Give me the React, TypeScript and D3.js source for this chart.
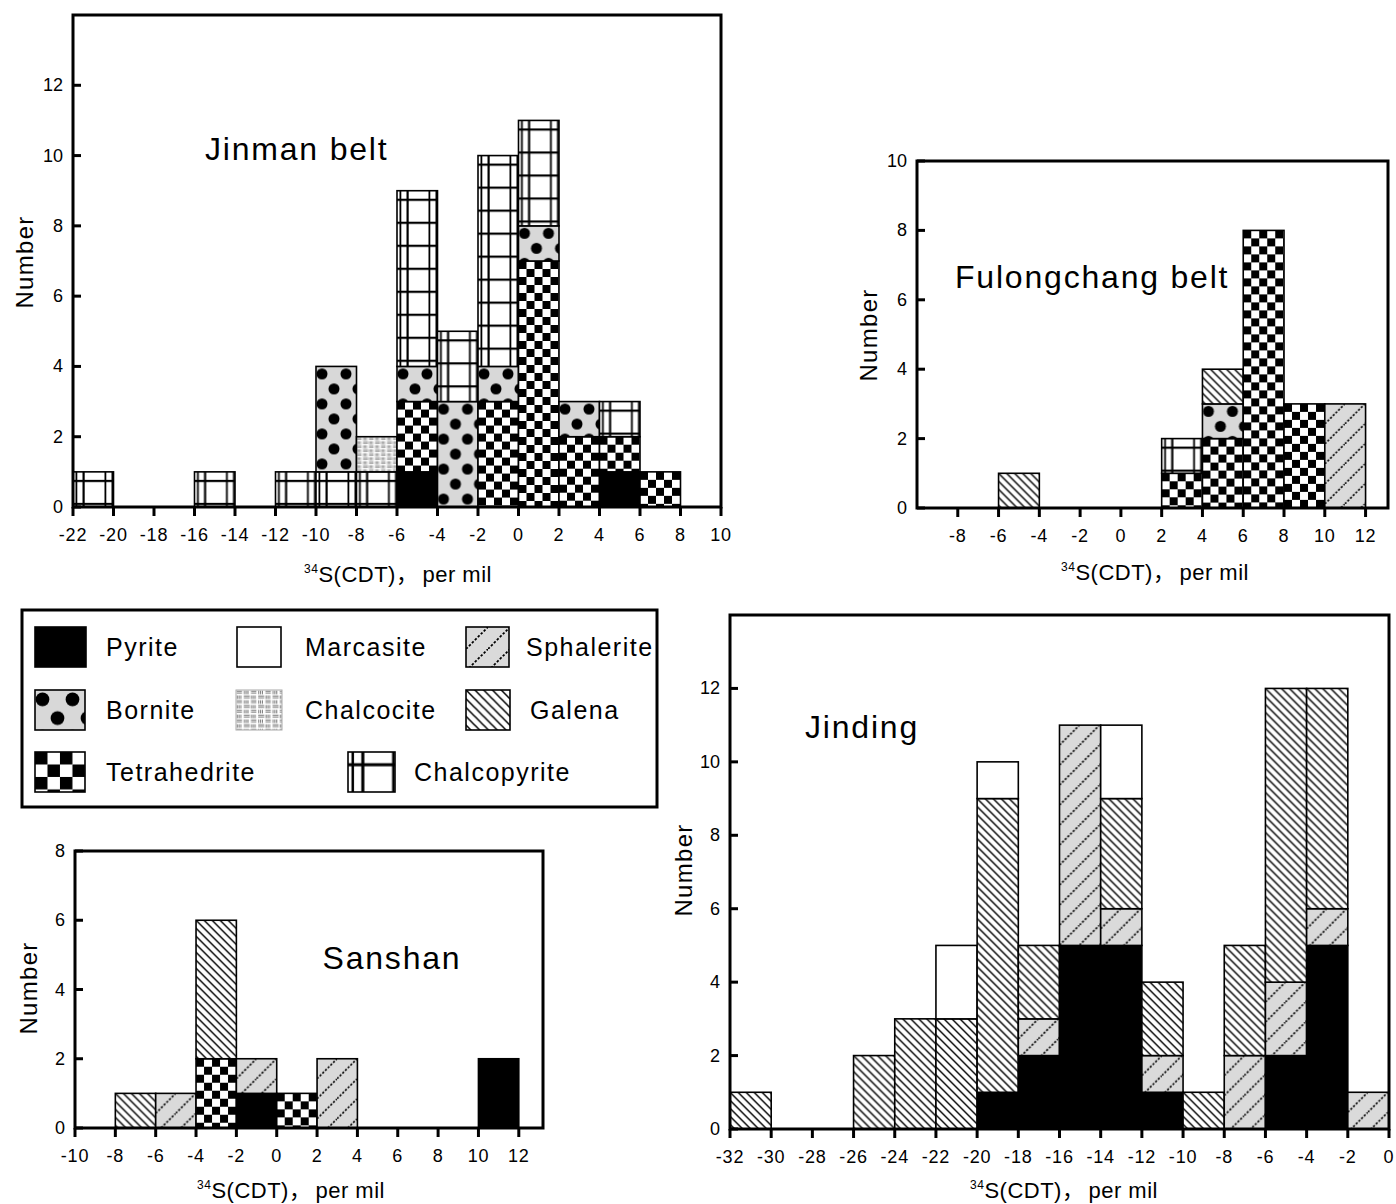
import React from 'react';
import * as d3 from 'd3';

// [bin start, mineral, count] – stacked bottom to top in listed order
type Seg = [number, string, number];

const minerals = ['Pyrite', 'Marcasite', 'Sphalerite', 'Bornite', 'Chalcocite', 'Galena', 'Tetrahedrite', 'Chalcopyrite'];

const jinmanSegs: Seg[] = [
  [-22, 'Chalcopyrite', 1],
  [-16, 'Chalcopyrite', 1],
  [-12, 'Chalcopyrite', 1],
  [-10, 'Chalcopyrite', 1], [-10, 'Bornite', 3],
  [-8, 'Chalcopyrite', 1], [-8, 'Chalcocite', 1],
  [-6, 'Pyrite', 1], [-6, 'Tetrahedrite', 2], [-6, 'Bornite', 1], [-6, 'Chalcopyrite', 5],
  [-4, 'Bornite', 3], [-4, 'Chalcopyrite', 2],
  [-2, 'Tetrahedrite', 3], [-2, 'Bornite', 1], [-2, 'Chalcopyrite', 6],
  [0, 'Tetrahedrite', 7], [0, 'Bornite', 1], [0, 'Chalcopyrite', 3],
  [2, 'Tetrahedrite', 2], [2, 'Bornite', 1],
  [4, 'Pyrite', 1], [4, 'Tetrahedrite', 1], [4, 'Chalcopyrite', 1],
  [6, 'Tetrahedrite', 1],
];

const fulongchangSegs: Seg[] = [
  [-6, 'Galena', 1],
  [2, 'Tetrahedrite', 1], [2, 'Chalcopyrite', 1],
  [4, 'Tetrahedrite', 2], [4, 'Bornite', 1], [4, 'Galena', 1],
  [6, 'Tetrahedrite', 8],
  [8, 'Tetrahedrite', 3],
  [10, 'Sphalerite', 3],
];

const sanshanSegs: Seg[] = [
  [-8, 'Galena', 1],
  [-6, 'Sphalerite', 1],
  [-4, 'Tetrahedrite', 2], [-4, 'Galena', 4],
  [-2, 'Pyrite', 1], [-2, 'Sphalerite', 1],
  [0, 'Tetrahedrite', 1],
  [2, 'Sphalerite', 2],
  [10, 'Pyrite', 2],
];

const jindingSegs: Seg[] = [
  [-32, 'Galena', 1],
  [-26, 'Galena', 2],
  [-24, 'Galena', 3],
  [-22, 'Galena', 3], [-22, 'Marcasite', 2],
  [-20, 'Pyrite', 1], [-20, 'Galena', 8], [-20, 'Marcasite', 1],
  [-18, 'Pyrite', 2], [-18, 'Sphalerite', 1], [-18, 'Galena', 2],
  [-16, 'Pyrite', 5], [-16, 'Sphalerite', 6],
  [-14, 'Pyrite', 5], [-14, 'Sphalerite', 1], [-14, 'Galena', 3], [-14, 'Marcasite', 2],
  [-12, 'Pyrite', 1], [-12, 'Sphalerite', 1], [-12, 'Galena', 2],
  [-10, 'Galena', 1],
  [-8, 'Sphalerite', 2], [-8, 'Galena', 3],
  [-6, 'Pyrite', 2], [-6, 'Sphalerite', 2], [-6, 'Galena', 8],
  [-4, 'Pyrite', 5], [-4, 'Sphalerite', 1], [-4, 'Galena', 6],
  [-2, 'Sphalerite', 1],
];

const jinmanXTicks = d3.range(-22, 11, 2);
const jinmanYTicks = [0, 2, 4, 6, 8, 10, 12];
const fulongXTicks = d3.range(-8, 13, 2);
const fulongYTicks = [0, 2, 4, 6, 8, 10];
const sanshanXTicks = d3.range(-10, 13, 2);
const sanshanYTicks = [0, 2, 4, 6, 8];
const jindingXTicks = d3.range(-32, 1, 2);
const jindingYTicks = [0, 2, 4, 6, 8, 10, 12];

const FONT = 'Liberation Sans, Arial, Helvetica, sans-serif';
const BIN = 2;

// one pattern per rectangle so the texture starts at the bar's corner
const makePattern = (m: string, id: string, x0: number, y0: number, s: number) => {
  const tf = `translate(${x0},${y0}) scale(${s})`;
  const common = { id, patternUnits: 'userSpaceOnUse', patternTransform: tf } as any;
  switch (m) {
    case 'Sphalerite':
      return (
        <pattern key={id} {...common} width={20} height={20}>
          <rect width={20} height={20} fill="#dadada" />
          <line x1={0} y1={20} x2={20} y2={0} stroke="#000" strokeWidth={1.6} strokeDasharray="2.2 1.6" />
        </pattern>
      );
    case 'Galena':
      return (
        <pattern key={id} {...common} width={8} height={8}>
          <rect width={8} height={8} fill="#fff" />
          <line x1={0} y1={0} x2={8} y2={8} stroke="#000" strokeWidth={1.4} />
          <line x1={-1} y1={7} x2={1} y2={9} stroke="#000" strokeWidth={1.4} />
          <line x1={7} y1={-1} x2={9} y2={1} stroke="#000" strokeWidth={1.4} />
        </pattern>
      );
    case 'Bornite':
      return (
        <pattern key={id} {...common} width={24} height={30}>
          <rect width={24} height={30} fill="#d8d8d8" />
          <circle cx={6} cy={7.5} r={5.5} fill="#000" />
          <circle cx={18} cy={22.5} r={5.5} fill="#000" />
        </pattern>
      );
    case 'Tetrahedrite':
      return (
        <pattern key={id} {...common} width={16} height={16}>
          <rect width={16} height={16} fill="#fff" />
          <rect width={8} height={8} fill="#000" />
          <rect x={8} y={8} width={8} height={8} fill="#000" />
        </pattern>
      );
    case 'Chalcopyrite':
      return (
        <pattern key={id} {...common} width={29} height={23}>
          <rect width={29} height={23} fill="#fff" />
          <rect x={2.5} y={0} width={1.8} height={23} fill="#000" />
          <rect x={9.5} y={0} width={2.2} height={23} fill="#000" />
          <rect x={0} y={8} width={29} height={2.2} fill="#000" />
        </pattern>
      );
    case 'Chalcocite':
      return (
        <pattern key={id} {...common} width={12} height={8}>
          <rect width={12} height={8} fill="#fff" />
          <g stroke="#444" strokeWidth={0.6}>
            <line x1={0.5} y1={1} x2={5} y2={1} />
            <line x1={0.5} y1={2.5} x2={5} y2={2.5} />
            <line x1={7} y1={0.5} x2={7} y2={3.5} />
            <line x1={8.5} y1={0.5} x2={8.5} y2={3.5} />
            <line x1={10} y1={0.5} x2={10} y2={3.5} />
            <line x1={1} y1={4.5} x2={1} y2={7.5} />
            <line x1={2.5} y1={4.5} x2={2.5} y2={7.5} />
            <line x1={4} y1={4.5} x2={4} y2={7.5} />
            <line x1={6.5} y1={5} x2={11.5} y2={5} />
            <line x1={6.5} y1={6.5} x2={11.5} y2={6.5} />
          </g>
        </pattern>
      );
    default:
      return null;
  }
};

const fillOf = (m: string, id: string) => {
  if (m === 'Pyrite') return '#000';
  if (m === 'Marcasite') return '#fff';
  return `url(#${id})`;
};

const XLabel = ({ x, y }: { x: number; y: number }) => (
  <text x={x} y={y} fontSize={22} textAnchor="middle" fontFamily={FONT} letterSpacing={0.5}>
    <tspan fontSize={12} dy={-9}>34</tspan>
    <tspan dy={9}>S(CDT)</tspan>
    <tspan fontFamily="Noto Sans CJK SC, sans-serif">，</tspan>
    <tspan dx={4}>per mil</tspan>
  </text>
);

interface PanelProps {
  name: string;
  left: number; right: number; top: number; bottom: number;
  xDomain: [number, number]; yMax: number;
  xTicks: number[]; yTicks: number[];
  segs: Seg[];
  title: string; titleX: number; titleY: number; titleAnchor?: string;
  yLabelX: number; yLabelY: number; xLabelX: number; xLabelY: number;
}

const Panel = (p: PanelProps) => {
  const x = d3.scaleLinear().domain(p.xDomain).range([p.left, p.right]);
  const y = d3.scaleLinear().domain([0, p.yMax]).range([p.bottom, p.top]);
  const cum = new Map<number, number>();
  const stacked = p.segs.map(([b, m, n], i) => {
    const y0 = cum.get(b) ?? 0;
    cum.set(b, y0 + n);
    return { b, m, y0, y1: y0 + n, id: `p-${p.name}-${i}` };
  });
  return (
    <g fontFamily={FONT}>
      <defs>{stacked.map((d) => makePattern(d.m, d.id, x(d.b), y(d.y1), 1))}</defs>
      {stacked.map((d) => (
        <rect key={d.id} x={x(d.b)} y={y(d.y1)} width={x(d.b + BIN) - x(d.b)} height={y(d.y0) - y(d.y1)}
          fill={fillOf(d.m, d.id)} stroke="#000" strokeWidth={1.6} />
      ))}
      <rect x={p.left} y={p.top} width={p.right - p.left} height={p.bottom - p.top} fill="none" stroke="#000" strokeWidth={3} />
      {p.xTicks.map((t) => (
        <g key={t}>
          <line x1={x(t)} x2={x(t)} y1={p.bottom} y2={p.bottom + 9} stroke="#000" strokeWidth={3} />
          <text x={x(t)} y={p.bottom + 34} fontSize={18} textAnchor="middle" letterSpacing={0.8}>{t}</text>
        </g>
      ))}
      {p.yTicks.map((t) => (
        <g key={t}>
          <line x1={p.left} x2={p.left + 8} y1={y(t)} y2={y(t)} stroke="#000" strokeWidth={3} />
          <text x={p.left - 10} y={y(t)} fontSize={18} textAnchor="end" dominantBaseline="central">{t}</text>
        </g>
      ))}
      <text x={p.titleX} y={p.titleY} fontSize={32} letterSpacing={1.8} textAnchor={p.titleAnchor ?? 'start'}>{p.title}</text>
      <text transform={`translate(${p.yLabelX},${p.yLabelY}) rotate(-90)`} fontSize={24} letterSpacing={1.3} textAnchor="middle">Number</text>
      <XLabel x={p.xLabelX} y={p.xLabelY} />
    </g>
  );
};

const legendRows = [
  [{ m: 'Pyrite', sx: 35, sw: 51, lx: 106 }, { m: 'Marcasite', sx: 237, sw: 44, lx: 305 }, { m: 'Sphalerite', sx: 466, sw: 43, lx: 526 }],
  [{ m: 'Bornite', sx: 35, sw: 50, lx: 106 }, { m: 'Chalcocite', sx: 236, sw: 46, lx: 305 }, { m: 'Galena', sx: 466, sw: 44, lx: 530 }],
  [{ m: 'Tetrahedrite', sx: 35, sw: 50, lx: 106 }, { m: 'Chalcopyrite', sx: 348, sw: 47, lx: 414 }],
];
const legendRowY = [647, 710, 772];
const legendScale: Record<string, number> = { Tetrahedrite: 1.56, Bornite: 1.25, Chalcopyrite: 1.4, Galena: 1.1, Sphalerite: 1.1, Chalcocite: 1.2 };

const Legend = () => (
  <g fontFamily={FONT}>
    <rect x={22} y={610} width={635} height={197} fill="#fff" stroke="#000" strokeWidth={3} />
    {legendRows.map((row, ri) =>
      row.map((it) => {
        const id = `lg-${it.m}`;
        const sy = legendRowY[ri] - 20;
        return (
          <g key={it.m}>
            <defs>{makePattern(it.m, id, it.sx, sy, legendScale[it.m] ?? 1)}</defs>
            <rect x={it.sx} y={sy} width={it.sw} height={40} fill={fillOf(it.m, id)}
              stroke={it.m === 'Chalcocite' ? '#aaa' : '#000'} strokeWidth={it.m === 'Chalcocite' ? 1 : 1.6} />
            <text x={it.lx} y={legendRowY[ri]} fontSize={25} letterSpacing={1.5} dominantBaseline="central">{it.m}</text>
          </g>
        );
      })
    )}
  </g>
);

export default function App() {
  return (
    <svg width={1396} height={1204} style={{ display: 'block', position: 'absolute', left: 0, top: 0, background: '#fff' }}>
      <rect width={1396} height={1204} fill="#fff" />
      <Panel name="jinman" left={73} right={721} top={15} bottom={507} xDomain={[-22, 10]} yMax={14}
        xTicks={jinmanXTicks} yTicks={jinmanYTicks} segs={jinmanSegs}
        title="Jinman belt" titleX={205} titleY={160}
        yLabelX={33} yLabelY={262} xLabelX={398} xLabelY={582} />
      <Panel name="fulong" left={917} right={1388} top={161} bottom={508} xDomain={[-10, 13.1]} yMax={10}
        xTicks={fulongXTicks} yTicks={fulongYTicks} segs={fulongchangSegs}
        title="Fulongchang belt" titleX={955} titleY={288}
        yLabelX={877} yLabelY={335} xLabelX={1155} xLabelY={580} />
      <Legend />
      <Panel name="sanshan" left={75} right={543} top={851} bottom={1128} xDomain={[-10, 13.2]} yMax={8}
        xTicks={sanshanXTicks} yTicks={sanshanYTicks} segs={sanshanSegs}
        title="Sanshan" titleX={392} titleY={969} titleAnchor="middle"
        yLabelX={37} yLabelY={988} xLabelX={291} xLabelY={1198} />
      <Panel name="jinding" left={730} right={1389} top={615} bottom={1129} xDomain={[-32, 0]} yMax={14}
        xTicks={jindingXTicks} yTicks={jindingYTicks} segs={jindingSegs}
        title="Jinding" titleX={805} titleY={738}
        yLabelX={692} yLabelY={870} xLabelX={1064} xLabelY={1198} />
    </svg>
  );
}
